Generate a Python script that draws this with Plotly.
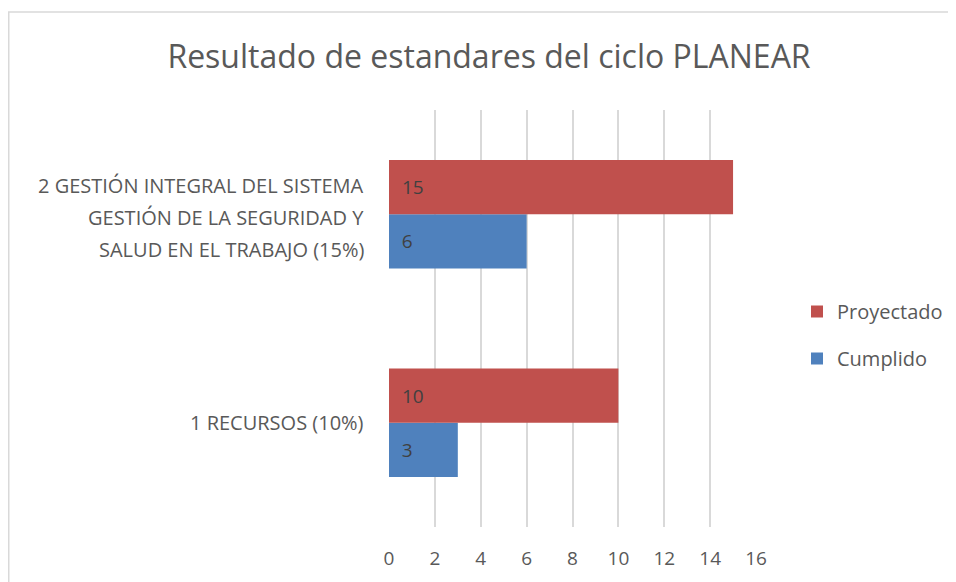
import plotly.graph_objects as go

categories = [
    "1 RECURSOS (10%)",
    "2 GESTIÓN INTEGRAL DEL SISTEMA<br>GESTIÓN DE LA SEGURIDAD Y<br>SALUD EN EL TRABAJO (15%)",
]
cumplido = [3, 6]
proyectado = [10, 15]
x_ticks = [0, 2, 4, 6, 8, 10, 12, 14, 16]

FONT = "Open Sans"
TEXT = "#595959"
LABEL = "#404040"
GRID = "#d9d9d9"

# page has an 8px body margin, so the figure is laid out in its own coords
W, H = 948, 574
pw, ph = 367, 417
l, t = 381, 102

fig = go.Figure()
fig.add_trace(go.Bar(
    y=categories, x=cumplido, name="Cumplido", orientation="h",
    legendgroup="c", legendrank=2,
    marker={"color": "#4f81bd", "line": {"width": 0}},
    texttemplate="\u00a0\u00a0%{x}", textposition="inside", insidetextanchor="start",
    textfont={"color": LABEL, "size": 19, "family": FONT},
))
fig.add_trace(go.Bar(
    y=categories, x=proyectado, name="Proyectado", orientation="h",
    legendgroup="p", legendrank=1,
    marker={"color": "#c0504d", "line": {"width": 0}},
    texttemplate="\u00a0\u00a0%{x}", textposition="inside", insidetextanchor="start",
    textfont={"color": LABEL, "size": 19, "family": FONT},
))

# category labels, lines centred within a right-aligned block
for cat in categories:
    lines = cat.split("<br>")
    n = len(lines)
    for i, line in enumerate(lines):
        fig.add_annotation(
            x=(358 - l) / pw, xref="paper", y=cat, yref="y",
            text=line, showarrow=False, xanchor="right", yanchor="middle",
            align="center", yshift=((n - 1) / 2 - i) * 32 - (3 if n > 1 else 0),
            font={"size": 20, "color": TEXT, "family": FONT},
        )

# chart border
fig.add_shape(type="rect", xref="paper", yref="paper",
              x0=(0.75 - l) / pw, x1=3.0, y0=-1.0, y1=(t + ph - 4) / ph,
              line={"color": GRID, "width": 1.5}, fillcolor="rgba(0,0,0,0)")

fig.update_layout(
    width=W, height=H,
    margin={"l": l, "r": W - l - pw, "t": t, "b": H - t - ph, "autoexpand": False},
    paper_bgcolor="white", plot_bgcolor="white",
    font={"family": FONT, "color": TEXT, "size": 19},
    title={"text": "Resultado de estandares del ciclo PLANEAR",
           "x": 481 / W, "xanchor": "center", "y": 1 - 49 / H, "yanchor": "middle",
           "font": {"size": 32, "color": TEXT, "family": FONT}},
    barmode="group", bargap=0.48, bargroupgap=0,
    xaxis={"range": [0, 16], "tickvals": x_ticks, "showgrid": True,
           "gridcolor": GRID, "gridwidth": 1.5, "zeroline": False,
           "showline": False, "ticks": "", "ticklabelstandoff": 18,
           "tickfont": {"size": 19, "color": TEXT}},
    yaxis={"showgrid": False, "zeroline": False, "showline": False,
           "ticks": "", "showticklabels": False},
    legend={"x": (789 - l) / pw, "y": (t + ph - 327) / ph, "xanchor": "left",
            "yanchor": "middle", "traceorder": "grouped",
            "tracegroupgap": 18, "font": {"size": 20, "color": TEXT},
            "itemwidth": 30},
    showlegend=True,
)

fig.write_html("out.html")
